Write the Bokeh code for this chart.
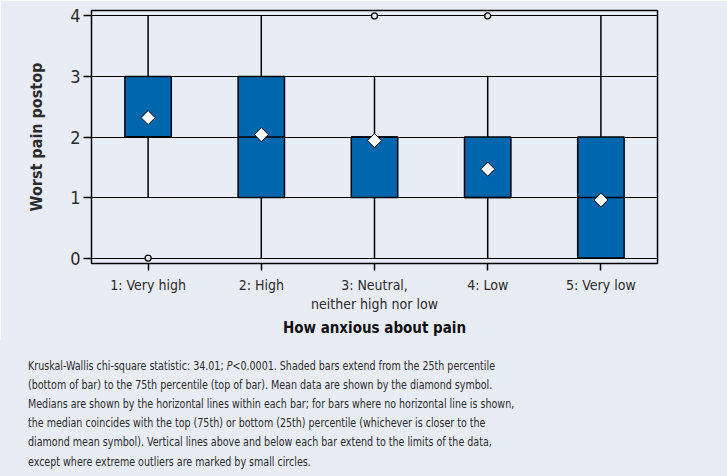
from bokeh.plotting import figure
from bokeh.models import Range1d, FactorRange, Div
from bokeh.layouts import column
from bokeh.embed import file_html
from bokeh.resources import INLINE
from math import pi

# Groups: how anxious about pain
categories = ["1: Very high", "2: High", "3: Neutral,\nneither high nor low", "4: Low", "5: Very low"]
# Worst pain postop summary per group
q1 = [2, 1, 1, 1, 0]
q3 = [3, 3, 2, 2, 2]
medians = [2, 2, 2, 1, 1]
means = [2.32, 2.04, 1.94, 1.47, 0.96]
whisker_low = [1, 0, 0, 0, 0]
whisker_high = [4, 4, 3, 3, 4]
outlier_group = [categories[0], categories[2], categories[3]]
outlier_value = [0, 4, 4]
y_ticks = [0, 1, 2, 3, 4]

caption = [
    "Kruskal-Wallis chi-square statistic: 34.01; <i>P</i>&lt;0.0001. Shaded bars extend from the 25th percentile",
    "(bottom of bar) to the 75th percentile (top of bar). Mean data are shown by the diamond symbol.",
    "Medians are shown by the horizontal lines within each bar; for bars where no horizontal line is shown,",
    "the median coincides with the top (75th) or bottom (25th) percentile (whichever is closer to the",
    "diamond mean symbol). Vertical lines above and below each bar extend to the limits of the data,",
    "except where extreme outliers are marked by small circles.",
]

BG = "#e8edf5"
BAR = "#0066ae"
FONT = "'Liberation Sans Narrow', 'DejaVu Sans Condensed', 'Roboto Condensed', Roboto"
TXT = "#2b2b2b"

p = figure(
    width=727, height=340,
    x_range=FactorRange(*categories, range_padding=0),
    y_range=Range1d(-0.09, 4.09),
    output_backend="svg", toolbar_location=None,
    min_border_left=91, min_border_right=70, min_border_top=10, min_border_bottom=77,
    background_fill_color=BG, border_fill_color=BG,
)
p.outline_line_color = "black"
p.outline_line_width = 1.5

# horizontal reference lines at each pain score
p.xgrid.grid_line_color = None
p.ygrid.grid_line_color = "black"
p.ygrid.grid_line_width = 1.2
p.ygrid.ticker = y_ticks

# whiskers
p.segment(x0=categories, y0=q3, x1=categories, y1=whisker_high, line_color="black", line_width=1.5)
p.segment(x0=categories, y0=whisker_low, x1=categories, y1=q1, line_color="black", line_width=1.5)

# interquartile bars
p.vbar(x=categories, bottom=q1, top=q3, width=0.41, fill_color=BAR, line_color="black", line_width=1.5)

# medians
p.hbar(y=medians, left=[(c, -0.205) for c in categories], right=[(c, 0.205) for c in categories],
       height=0, line_color="black", line_width=1.5)

# means
p.scatter(x=categories, y=means, marker="square", angle=pi / 4, size=10,
          fill_color="white", line_color="black", line_width=1)

# extreme outliers
p.scatter(x=outlier_group, y=outlier_value, marker="circle", size=6,
          fill_color=BG, line_color="black", line_width=1.3)

# axes
p.yaxis.ticker = y_ticks
p.yaxis.major_tick_out = 8
p.yaxis.major_tick_in = 0
p.yaxis.minor_tick_line_color = None
p.yaxis.axis_line_color = "black"
p.yaxis.major_tick_line_color = "black"
p.yaxis.major_tick_line_width = 1.5
p.yaxis.major_label_text_font = FONT
p.yaxis.major_label_text_font_size = "18px"
p.yaxis.major_label_text_color = TXT
p.yaxis.major_label_standoff = 3
p.yaxis.axis_label = "Worst pain postop"
p.yaxis.axis_label_text_font = FONT
p.yaxis.axis_label_text_font_style = "bold"
p.yaxis.axis_label_text_font_size = "16px"
p.yaxis.axis_label_text_color = TXT
p.yaxis.axis_label_standoff = 21

p.xaxis.major_tick_out = 7
p.xaxis.major_tick_in = 0
p.xaxis.axis_line_color = "black"
p.xaxis.major_tick_line_color = "black"
p.xaxis.major_tick_line_width = 1.5
p.xaxis.major_label_text_font = FONT
p.xaxis.major_label_text_font_size = "14px"
p.xaxis.major_label_text_color = TXT
p.xaxis.major_label_standoff = 6
p.xaxis.axis_label = "How anxious about pain"
p.xaxis.axis_label_text_font = FONT
p.xaxis.axis_label_text_font_style = "bold"
p.xaxis.axis_label_text_font_size = "15px"
p.xaxis.axis_label_text_color = "#111111"
p.xaxis.axis_label_standoff = 4

# explanatory note under the chart
note_html = (
    '<div style="transform: scaleX(0.815); transform-origin: 0 0; white-space: nowrap;">'
    + "<br>".join(caption)
    + "</div>"
)
note = Div(
    text=note_html, width=727, height=136,
    styles={
        "background-color": BG,
        "font-family": FONT,
        "font-size": "13px",
        "color": TXT,
        "line-height": "19.2px",
        "padding": "15.5px 0 0 28px",
        "box-sizing": "border-box",
        "width": "727px",
        "height": "136px",
        "margin": "0",
    },
)

open("out.html", "w").write(file_html(column(p, note, spacing=0), INLINE))
